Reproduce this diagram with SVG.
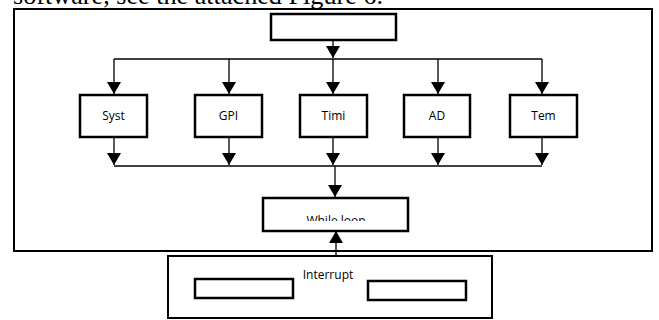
<svg xmlns="http://www.w3.org/2000/svg" width="659" height="320" viewBox="0 0 659 320">
<style>
.box{fill:#fff;stroke:#000;stroke-width:2.5}
.frame{fill:#fff;stroke:#000;stroke-width:2}
.ln{fill:none;stroke:#000;stroke-width:1.3}
.lbl{font-family:"Open Sans","DejaVu Sans",sans-serif;font-size:12px;fill:#000;text-anchor:middle}
.cap{font-family:"Liberation Serif",serif;font-size:26px;fill:#000}
</style>
<defs>
<marker id="ah" markerUnits="userSpaceOnUse" markerWidth="12" markerHeight="14" refX="12" refY="7" orient="auto">
<path d="M0,0 L12,7 L0,14 Z" fill="#000"/>
</marker>
<clipPath id="wclip"><rect x="265" y="200" width="140" height="21"/></clipPath>
</defs>
<rect width="659" height="320" fill="#fff"/>
<text class="cap" x="13" y="4" textLength="370" lengthAdjust="spacingAndGlyphs">software, see the attached Figure 6.</text>
<rect id="outer" class="frame" x="14" y="9" width="638" height="242"/>
<g id="connectors">
<line class="ln" x1="333" y1="40" x2="333" y2="58" marker-end="url(#ah)"/>
<line class="ln" x1="114" y1="59" x2="542" y2="59"/>
<line class="ln" x1="114" y1="59" x2="114" y2="94" marker-end="url(#ah)"/>
<line class="ln" x1="229" y1="59" x2="229" y2="94" marker-end="url(#ah)"/>
<line class="ln" x1="333" y1="59" x2="333" y2="94" marker-end="url(#ah)"/>
<line class="ln" x1="438" y1="59" x2="438" y2="94" marker-end="url(#ah)"/>
<line class="ln" x1="542" y1="59" x2="542" y2="94" marker-end="url(#ah)"/>
<line class="ln" x1="114" y1="137" x2="114" y2="165" marker-end="url(#ah)"/>
<line class="ln" x1="229" y1="137" x2="229" y2="165" marker-end="url(#ah)"/>
<line class="ln" x1="333" y1="137" x2="333" y2="165" marker-end="url(#ah)"/>
<line class="ln" x1="438" y1="137" x2="438" y2="165" marker-end="url(#ah)"/>
<line class="ln" x1="542" y1="137" x2="542" y2="165" marker-end="url(#ah)"/>
<line class="ln" x1="114" y1="166" x2="542" y2="166"/>
<line class="ln" x1="335" y1="166" x2="335" y2="197" marker-end="url(#ah)"/>
<line class="ln" x1="336" y1="270" x2="336" y2="231" marker-end="url(#ah)"/>
</g>
<g id="top"><rect class="box" x="271" y="14" width="125" height="26"/></g>
<g id="syst"><rect class="box" x="80" y="95" width="67" height="42"/><text class="lbl" x="113.5" y="120">Syst</text></g>
<g id="gpi"><rect class="box" x="195" y="95" width="67" height="42"/><text class="lbl" x="228.5" y="120">GPI</text></g>
<g id="timi"><rect class="box" x="300" y="95" width="67" height="42"/><text class="lbl" x="333.5" y="120">Timi</text></g>
<g id="ad"><rect class="box" x="404" y="95" width="66" height="42"/><text class="lbl" x="437" y="120">AD</text></g>
<g id="tem"><rect class="box" x="510" y="95" width="67" height="42"/><text class="lbl" x="543.5" y="120">Tem</text></g>
<g id="while"><rect class="box" x="263" y="198" width="145" height="33"/><text class="lbl" x="336" y="225" clip-path="url(#wclip)">While loop</text></g>
<g id="interrupt">
<rect class="frame" x="168" y="256" width="324" height="62"/>
<text class="lbl" x="328" y="279">Interrupt</text>
<rect class="box" x="195" y="279" width="98" height="19"/>
<rect class="box" x="368" y="281" width="98" height="19"/>
</g>
</svg>
